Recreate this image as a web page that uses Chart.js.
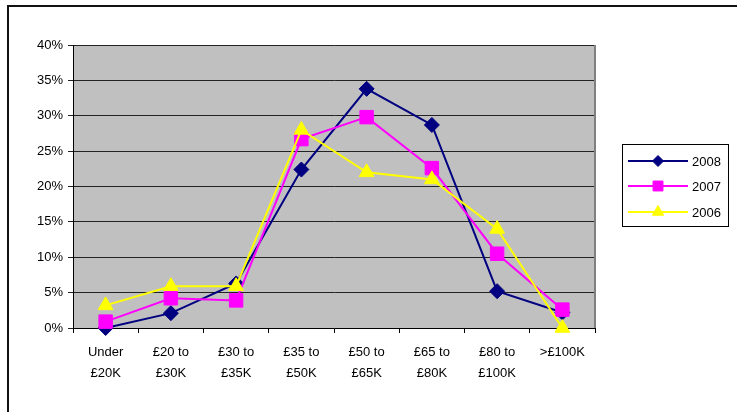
<!DOCTYPE html>
<html>
<head>
<meta charset="utf-8">
<script src="https://cdn.jsdelivr.net/npm/chart.js@4/dist/chart.umd.min.js"></script>
<style>
  html, body { margin: 0; padding: 0; background: #fff; }
  #wrap { position: relative; width: 737px; height: 412px; overflow: hidden; }
  #frame { position: absolute; left: 7px; top: 5px; width: 760px; height: 440px;
           border-left: 2px solid #111; border-top: 2px solid #111; box-sizing: border-box; }
  canvas { position: absolute; left: 0; top: 0; }
</style>
</head>
<body>
<div id="wrap">
  <div id="frame"></div>
  <canvas id="c" width="737" height="412"></canvas>
</div>
<script>
// Salary bands (two-line labels)
const categories = [
  ['Under', '£20K'], ['£20 to', '£30K'], ['£30 to', '£35K'], ['£35 to', '£50K'],
  ['£50 to', '£65K'], ['£65 to', '£80K'], ['£80 to', '£100K'], ['>£100K']
];
// Share of respondents per band, in percent
const share2008 = [0, 2.1, 6.3, 22.4, 33.8, 28.7, 5.2, 2.2];
const share2007 = [0.9, 4.2, 3.9, 26.7, 29.8, 22.6, 10.5, 2.6];
const share2006 = [3.2, 5.9, 5.9, 28.0, 22.0, 21.0, 14.0, 0];
const yTicks = [0, 5, 10, 15, 20, 25, 30, 35, 40];

Chart.defaults.font.family = "'Liberation Sans', Arial, sans-serif";
Chart.defaults.font.size = 13;
Chart.defaults.color = '#000';

// Grey plot background with a darker right-hand edge
const plotBg = {
  id: 'plotBg',
  beforeDraw(chart) {
    const { ctx, chartArea: a } = chart;
    ctx.save();
    ctx.fillStyle = '#c0c0c0';
    ctx.fillRect(a.left, a.top, a.right - a.left, a.bottom - a.top);
    ctx.restore();
  },
  beforeDatasetsDraw(chart) {
    const { ctx, chartArea: a } = chart;
    ctx.save();
    ctx.strokeStyle = '#808080';
    ctx.lineWidth = 2;
    ctx.beginPath();
    ctx.moveTo(a.right, a.top);
    ctx.lineTo(a.right, a.bottom);
    ctx.stroke();
    ctx.restore();
  }
};

// Boxed legend to the right of the plot
const legendMarkerRadius = { rectRot: 5.5, rect: 7, triangle: 6.5 };
const boxLegend = {
  id: 'boxLegend',
  afterDraw(chart) {
    const ctx = chart.ctx;
    const x0 = 622, y0 = 144, w = 106, h = 82;
    ctx.save();
    ctx.fillStyle = '#fff';
    ctx.fillRect(x0, y0, w, h);
    ctx.strokeStyle = '#000';
    ctx.lineWidth = 1;
    ctx.strokeRect(x0 + 0.5, y0 + 0.5, w, h);
    const rowY = [161, 186, 212];
    chart.data.datasets.forEach((ds, i) => {
      const y = rowY[i];
      ctx.strokeStyle = ds.borderColor;
      ctx.lineWidth = 2;
      ctx.beginPath();
      ctx.moveTo(628, y);
      ctx.lineTo(688, y);
      ctx.stroke();
      ctx.fillStyle = ds.pointBackgroundColor;
      ctx.strokeStyle = ds.pointBorderColor;
      ctx.lineWidth = 1;
      Chart.helpers.drawPoint(ctx, { pointStyle: ds.pointStyle, radius: legendMarkerRadius[ds.pointStyle], rotation: 0, borderWidth: 1 }, 658, y);
      ctx.fillStyle = '#000';
      ctx.font = "13px 'Liberation Sans', Arial, sans-serif";
      ctx.textBaseline = 'middle';
      ctx.textAlign = 'left';
      ctx.fillText(ds.label, 692, y + 1);
    });
    ctx.restore();
  }
};

function series(label, data, color, style, radius, order) {
  return {
    label, data, order,
    borderColor: color, backgroundColor: color,
    pointBackgroundColor: color, pointBorderColor: color,
    pointStyle: style, pointRadius: radius, pointBorderWidth: 1,
    borderWidth: 2, tension: 0, clip: false
  };
}

new Chart(document.getElementById('c'), {
  type: 'line',
  data: {
    labels: categories,
    datasets: [
      series('2008', share2008, '#000080', 'rectRot', 7.5, 2),
      series('2007', share2007, '#ff00ff', 'rect', 9.5, 1),
      series('2006', share2006, '#ffff00', 'triangle', 8.5, 0)
    ]
  },
  options: {
    responsive: false,
    animation: false,
    layout: { padding: { left: 0, top: 45, right: 142, bottom: 22 } },
    plugins: { legend: { display: false }, tooltip: { enabled: false } },
    scales: {
      x: {
        type: 'category',
        offset: true,
        grid: { offset: true, drawOnChartArea: false, drawTicks: true, tickLength: 5, color: '#000' },
        border: { color: '#000', width: 1 },
        ticks: { maxRotation: 0, minRotation: 0, autoSkip: false, padding: 9, font: { lineHeight: 1.62 } },
        afterFit(s) { s.height = 62; }
      },
      y: {
        min: 0, max: 40,
        afterBuildTicks(s) { s.ticks = yTicks.map(v => ({ value: v })); },
        ticks: { callback: v => v + '%', padding: 5 },
        grid: { color: '#222', lineWidth: 1, tickLength: 5, drawTicks: true },
        border: { color: '#000', width: 1 },
        afterFit(s) { s.width = 73; }
      }
    }
  },
  plugins: [plotBg, boxLegend]
});
</script>
</body>
</html>
